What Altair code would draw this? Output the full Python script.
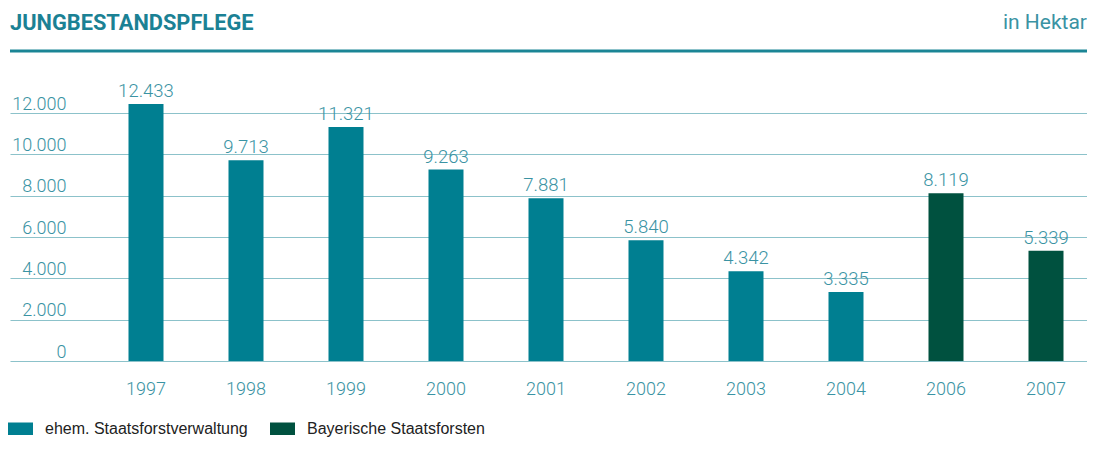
import altair as alt
import pandas as pd

years = ["1997", "1998", "1999", "2000", "2001", "2002", "2003", "2004", "2006", "2007"]
values = [12433, 9713, 11321, 9263, 7881, 5840, 4342, 3335, 8119, 5339]
labels = ["12.433", "9.713", "11.321", "9.263", "7.881", "5.840", "4.342", "3.335", "8.119", "5.339"]
groups = ["ehem. Staatsforstverwaltung"] * 8 + ["Bayerische Staatsforsten"] * 2
series = ["ehem. Staatsforstverwaltung", "Bayerische Staatsforsten"]
series_colors = ["#007f91", "#00513f"]
y_ticks = [0, 2000, 4000, 6000, 8000, 10000, 12000]

df = pd.DataFrame({"year": years, "value": values, "label": labels, "group": groups})

TEAL_TXT = "#3a93a3"
W, H = 1077, 248

x = alt.X("year:N", sort=years, title=None,
          scale=alt.Scale(paddingInner=0.65, paddingOuter=0.71, align=0.8345),
          axis=alt.Axis(domain=False, ticks=False, labelAngle=0, labelPadding=19,
                        labelFont="Roboto", labelFontWeight=300, labelFontSize=18,
                        labelColor=TEAL_TXT))
y = alt.Y("value:Q", title=None,
          scale=alt.Scale(domain=[0, 12000], nice=False, zero=True),
          axis=alt.Axis(values=y_ticks, domain=False, ticks=False, grid=True,
                        gridColor="#8cc2ca", gridWidth=1.2, gridOpacity=1,
                        labelAlign="right", labelPadding=-56, labelBaseline="alphabetic",
                        labelOffset=-4,
                        labelExpr="replace(format(datum.value, ',d'), ',', '.')",
                        labelFont="Roboto", labelFontWeight=300, labelFontSize=18,
                        labelColor=TEAL_TXT))

bars = alt.Chart(df).mark_bar().encode(
    x=x, y=y,
    color=alt.Color("group:N", sort=series, title=None,
                    scale=alt.Scale(domain=series, range=series_colors),
                    legend=alt.Legend(orient="none", legendX=-2, legendY=303,
                                      direction="horizontal", columns=2,
                                      symbolType="M-1,-0.5H1V0.5H-1Z", symbolSize=625,
                                      symbolStrokeWidth=0, symbolOpacity=1,
                                      labelFont="Liberation Sans", labelFontSize=16,
                                      labelColor="#222222", labelOffset=12, labelLimit=0,
                                      columnPadding=22, padding=0)),
)

text = alt.Chart(df).mark_text(baseline="alphabetic", dy=-7, font="Roboto",
                               fontWeight=300, fontSize=18.5, color=TEAL_TXT).encode(
    x=alt.X("year:N", sort=years), y="value:Q", text="label:N")

title_df = pd.DataFrame({"t": ["JUNGBESTANDSPFLEGE"]})
title = alt.Chart(title_df).mark_text(align="left", baseline="alphabetic", font="Roboto",
                                      fontWeight="bold", fontSize=21.8, color="#1b8194").encode(
    x=alt.value(0), y=alt.value(-83), text="t:N")

unit_df = pd.DataFrame({"t": ["in Hektar"]})
unit = alt.Chart(unit_df).mark_text(align="right", baseline="alphabetic", font="Roboto",
                                    fontSize=21, color=TEAL_TXT).encode(
    x=alt.value(W), y=alt.value(-84), text="t:N")

hline = alt.Chart(title_df).mark_rule(color="#1b8595", strokeWidth=3).encode(
    x=alt.value(0), x2=alt.value(W), y=alt.value(-62))

chart = alt.layer(bars, text, title, unit, hline).properties(
    width=W, height=H,
    autosize=alt.AutoSizeParams(type="none"),
    padding={"left": 2, "top": 105, "right": 0, "bottom": 80},
).configure_view(stroke=None)

chart.save("out.html", embed_options={"renderer": "svg", "actions": False})
